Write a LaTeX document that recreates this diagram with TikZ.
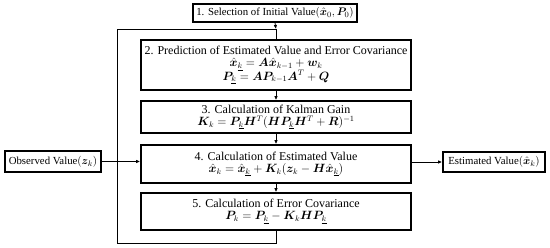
\documentclass[tikz,border=0pt]{standalone}
\usepackage{amsmath}
\usepackage{bm}
\usepackage{fontspec}
\setmainfont{Liberation Serif}
\usetikzlibrary{arrows.meta}
\newcommand{\km}{\underline{k}}
\begin{document}
\begin{tikzpicture}[x=1pt,y=1pt,
  box/.style={draw=black, line width=1.6pt, fill=white, align=center, inner sep=1pt, font=\fontsize{12}{13}\selectfont},
  smallbox/.style={box, font=\fontsize{10.8}{12}\selectfont},
  bigbox/.style={box, minimum width=270pt},
  conn/.style={line width=0.8pt},
  arr/.style={conn, -{Latex[length=4pt,width=3.5pt]}}]
\useasboundingbox (0,0) rectangle (550,248);
\node[smallbox, minimum width=164pt, minimum height=18pt] (b1) at (275,235) {1. Selection of Initial Value$(\hat{\bm{x}}_0,\bm{P}_0)$};
\node[bigbox, minimum height=50pt] (b2) at (276,183) {2. Prediction of Estimated Value and Error Covariance\\[-1pt]
  $\hat{\bm{x}}_{\km}=\bm{A}\hat{\bm{x}}_{k-1}+\bm{w}_k$\\[-1pt]
  $\bm{P}_{\km}=\bm{A}\bm{P}_{k-1}\bm{A}^{T}+\bm{Q}$};
\node[bigbox, minimum height=32pt] (b3) at (276,131) {3. Calculation of Kalman Gain\\[-1pt]
  $\bm{K}_k=\bm{P}_{\km}\bm{H}^{T}(\bm{H}\bm{P}_{\km}\bm{H}^{T}+\bm{R})^{-1}$};
\node[bigbox, minimum height=38pt] (b4) at (276,84) {4. Calculation of Estimated Value\\[-1pt]
  $\hat{\bm{x}}_k=\hat{\bm{x}}_{\km}+\bm{K}_k(\bm{z}_k-\bm{H}\hat{\bm{x}}_{\km})$};
\node[bigbox, minimum height=37pt] (b5) at (276,36.5) {5. Calculation of Error Covariance\\[-1pt]
  $\bm{P}_k=\bm{P}_{\km}-\bm{K}_k\bm{H}\bm{P}_{\km}$};
\node[smallbox, minimum width=96pt, minimum height=21pt] (obs) at (53,86.5) {Observed Value$(\bm{z}_k)$};
\node[smallbox, minimum width=102pt, minimum height=20pt] (est) at (494,86) {Estimated Value$(\hat{\bm{x}}_k)$};
\coordinate (j) at (276,219);
\coordinate (bl) at (117,5);
\draw[arr] (b1.south) -- (j);
\draw[conn] (j) -- (b2.north);
\draw[conn] (b5.south) |- (bl) |- (j);
\draw[arr] (b2.south) -- (b3.north);
\draw[arr] (b3.south) -- (b4.north);
\draw[arr] (b4.south) -- (b5.north);
\draw[arr] (obs.east) -- (obs.east -| b4.west);
\draw[arr] (b4.east |- est.west) -- (est.west);
\end{tikzpicture}
\end{document}
